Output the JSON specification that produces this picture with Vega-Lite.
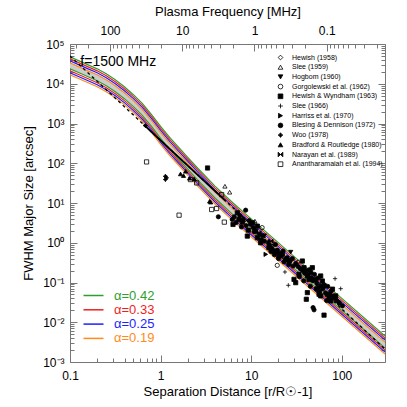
{
  "$schema": "https://vega.github.io/schema/vega-lite/v6.json",
  "width": 315,
  "height": 318,
  "autosize": {"type": "none"},
  "padding": {"left": 70, "top": 44, "right": 22, "bottom": 45},
  "background": "white",
  "config": {
    "view": {"stroke": null},
    "font": "Liberation Sans",
    "axis": {"grid": false, "labelFlush": false, "labelOverlap": false, "domainColor": "#777777", "tickColor": "#777777", "labelColor": "#000000", "titleColor": "#000000", "labelFont": "Liberation Sans", "titleFont": "Liberation Sans", "labelFontSize": 12, "titleFontSize": 13, "titleFontWeight": "normal", "tickWidth": 1, "domainWidth": 1}
  },
  "datasets": {
    "anchor": [{"x": 1, "y": 1}],
    "note": [{"x": 0.13, "y": 28000, "label": "f=1500 MHz"}],
    "powerlaw": [{"x": 0.1, "y": 49700}, {"x": 300, "y": 0.00211}],
    "fitseg": [{"x": 0.65, "y": 940}, {"x": 5.25, "y": 11.2}],
    "band": [
      {"x": 0.1, "top": 33500, "bottom": 23710},
      {"x": 0.1259, "top": 26610, "bottom": 18840},
      {"x": 0.1585, "top": 21130, "bottom": 14960},
      {"x": 0.1995, "top": 16790, "bottom": 11890},
      {"x": 0.2512, "top": 12590, "bottom": 8913},
      {"x": 0.3162, "top": 8913, "bottom": 6310},
      {"x": 0.3981, "top": 5957, "bottom": 4217},
      {"x": 0.5012, "top": 3758, "bottom": 2661},
      {"x": 0.631, "top": 2239, "bottom": 1585},
      {"x": 0.7943, "top": 1189, "bottom": 841.4},
      {"x": 1, "top": 595.7, "bottom": 421.7},
      {"x": 1.259, "top": 316.2, "bottom": 223.9},
      {"x": 1.585, "top": 177.8, "bottom": 125.9},
      {"x": 1.995, "top": 100, "bottom": 70.79},
      {"x": 2.512, "top": 56.23, "bottom": 39.81},
      {"x": 3.981, "top": 18.84, "bottom": 13.34},
      {"x": 6.31, "top": 7.079, "bottom": 5.012},
      {"x": 10, "top": 2.818, "bottom": 1.995},
      {"x": 31.62, "top": 0.2818, "bottom": 0.1995},
      {"x": 100, "top": 0.02818, "bottom": 0.01995},
      {"x": 300, "top": 0.003162, "bottom": 0.002239}
    ],
    "curves": [
      {"x": 0.1, "a": "α=0.42", "hi": 47320, "lo": 23710},
      {"x": 0.1, "a": "α=0.33", "hi": 42170, "lo": 21130},
      {"x": 0.1, "a": "α=0.25", "hi": 37580, "lo": 18840},
      {"x": 0.1, "a": "α=0.19", "hi": 33500, "lo": 16790},
      {"x": 0.1259, "a": "α=0.42", "hi": 37580, "lo": 18840},
      {"x": 0.1259, "a": "α=0.33", "hi": 33500, "lo": 16790},
      {"x": 0.1259, "a": "α=0.25", "hi": 29850, "lo": 14960},
      {"x": 0.1259, "a": "α=0.19", "hi": 26610, "lo": 13340},
      {"x": 0.1585, "a": "α=0.42", "hi": 29850, "lo": 14960},
      {"x": 0.1585, "a": "α=0.33", "hi": 26610, "lo": 13340},
      {"x": 0.1585, "a": "α=0.25", "hi": 23710, "lo": 11890},
      {"x": 0.1585, "a": "α=0.19", "hi": 21130, "lo": 10590},
      {"x": 0.1995, "a": "α=0.42", "hi": 23710, "lo": 11890},
      {"x": 0.1995, "a": "α=0.33", "hi": 21130, "lo": 10590},
      {"x": 0.1995, "a": "α=0.25", "hi": 18840, "lo": 9441},
      {"x": 0.1995, "a": "α=0.19", "hi": 16790, "lo": 8414},
      {"x": 0.2512, "a": "α=0.42", "hi": 17780, "lo": 8913},
      {"x": 0.2512, "a": "α=0.33", "hi": 15850, "lo": 7943},
      {"x": 0.2512, "a": "α=0.25", "hi": 14130, "lo": 7079},
      {"x": 0.2512, "a": "α=0.19", "hi": 12590, "lo": 6310},
      {"x": 0.3162, "a": "α=0.42", "hi": 12590, "lo": 6310},
      {"x": 0.3162, "a": "α=0.33", "hi": 11220, "lo": 5623},
      {"x": 0.3162, "a": "α=0.25", "hi": 10000, "lo": 5012},
      {"x": 0.3162, "a": "α=0.19", "hi": 8913, "lo": 4467},
      {"x": 0.3981, "a": "α=0.42", "hi": 8414, "lo": 4217},
      {"x": 0.3981, "a": "α=0.33", "hi": 7499, "lo": 3758},
      {"x": 0.3981, "a": "α=0.25", "hi": 6683, "lo": 3350},
      {"x": 0.3981, "a": "α=0.19", "hi": 5957, "lo": 2985},
      {"x": 0.5012, "a": "α=0.42", "hi": 5309, "lo": 2661},
      {"x": 0.5012, "a": "α=0.33", "hi": 4732, "lo": 2371},
      {"x": 0.5012, "a": "α=0.25", "hi": 4217, "lo": 2113},
      {"x": 0.5012, "a": "α=0.19", "hi": 3758, "lo": 1884},
      {"x": 0.631, "a": "α=0.42", "hi": 3162, "lo": 1585},
      {"x": 0.631, "a": "α=0.33", "hi": 2818, "lo": 1413},
      {"x": 0.631, "a": "α=0.25", "hi": 2512, "lo": 1259},
      {"x": 0.631, "a": "α=0.19", "hi": 2239, "lo": 1122},
      {"x": 0.7943, "a": "α=0.42", "hi": 1679, "lo": 841.4},
      {"x": 0.7943, "a": "α=0.33", "hi": 1496, "lo": 749.9},
      {"x": 0.7943, "a": "α=0.25", "hi": 1334, "lo": 668.3},
      {"x": 0.7943, "a": "α=0.19", "hi": 1189, "lo": 595.7},
      {"x": 1, "a": "α=0.42", "hi": 841.4, "lo": 421.7},
      {"x": 1, "a": "α=0.33", "hi": 749.9, "lo": 375.8},
      {"x": 1, "a": "α=0.25", "hi": 668.3, "lo": 335.0},
      {"x": 1, "a": "α=0.19", "hi": 595.7, "lo": 298.5},
      {"x": 1.259, "a": "α=0.42", "hi": 446.7, "lo": 223.9},
      {"x": 1.259, "a": "α=0.33", "hi": 398.1, "lo": 199.5},
      {"x": 1.259, "a": "α=0.25", "hi": 354.8, "lo": 177.8},
      {"x": 1.259, "a": "α=0.19", "hi": 316.2, "lo": 158.5},
      {"x": 1.585, "a": "α=0.42", "hi": 251.2, "lo": 125.9},
      {"x": 1.585, "a": "α=0.33", "hi": 223.9, "lo": 112.2},
      {"x": 1.585, "a": "α=0.25", "hi": 199.5, "lo": 100},
      {"x": 1.585, "a": "α=0.19", "hi": 177.8, "lo": 89.13},
      {"x": 1.995, "a": "α=0.42", "hi": 141.3, "lo": 70.79},
      {"x": 1.995, "a": "α=0.33", "hi": 125.9, "lo": 63.1},
      {"x": 1.995, "a": "α=0.25", "hi": 112.2, "lo": 56.23},
      {"x": 1.995, "a": "α=0.19", "hi": 100, "lo": 50.12},
      {"x": 2.512, "a": "α=0.42", "hi": 79.43, "lo": 39.81},
      {"x": 2.512, "a": "α=0.33", "hi": 70.79, "lo": 35.48},
      {"x": 2.512, "a": "α=0.25", "hi": 63.1, "lo": 31.62},
      {"x": 2.512, "a": "α=0.19", "hi": 56.23, "lo": 28.18},
      {"x": 3.981, "a": "α=0.42", "hi": 26.61, "lo": 13.34},
      {"x": 3.981, "a": "α=0.33", "hi": 23.71, "lo": 11.89},
      {"x": 3.981, "a": "α=0.25", "hi": 21.13, "lo": 10.59},
      {"x": 3.981, "a": "α=0.19", "hi": 18.84, "lo": 9.441},
      {"x": 6.31, "a": "α=0.42", "hi": 10, "lo": 5.012},
      {"x": 6.31, "a": "α=0.33", "hi": 8.913, "lo": 4.467},
      {"x": 6.31, "a": "α=0.25", "hi": 7.943, "lo": 3.981},
      {"x": 6.31, "a": "α=0.19", "hi": 7.079, "lo": 3.548},
      {"x": 10, "a": "α=0.42", "hi": 3.981, "lo": 1.995},
      {"x": 10, "a": "α=0.33", "hi": 3.548, "lo": 1.778},
      {"x": 10, "a": "α=0.25", "hi": 3.162, "lo": 1.585},
      {"x": 10, "a": "α=0.19", "hi": 2.818, "lo": 1.413},
      {"x": 31.62, "a": "α=0.42", "hi": 0.3981, "lo": 0.1995},
      {"x": 31.62, "a": "α=0.33", "hi": 0.3548, "lo": 0.1778},
      {"x": 31.62, "a": "α=0.25", "hi": 0.3162, "lo": 0.1585},
      {"x": 31.62, "a": "α=0.19", "hi": 0.2818, "lo": 0.1413},
      {"x": 100, "a": "α=0.42", "hi": 0.03981, "lo": 0.01995},
      {"x": 100, "a": "α=0.33", "hi": 0.03548, "lo": 0.01778},
      {"x": 100, "a": "α=0.25", "hi": 0.03162, "lo": 0.01585},
      {"x": 100, "a": "α=0.19", "hi": 0.02818, "lo": 0.01413},
      {"x": 300, "a": "α=0.42", "hi": 0.004467, "lo": 0.002239},
      {"x": 300, "a": "α=0.33", "hi": 0.003981, "lo": 0.001995},
      {"x": 300, "a": "α=0.25", "hi": 0.003548, "lo": 0.001778},
      {"x": 300, "a": "α=0.19", "hi": 0.003162, "lo": 0.001585}
    ],
    "obs": [
      {"study": "Hewish (1958)", "x": 17.5, "y": 0.95},
      {"study": "Hewish (1958)", "x": 33, "y": 0.33},
      {"study": "Hewish (1958)", "x": 55, "y": 0.09},
      {"study": "Slee (1959)", "x": 5.13, "y": 26.4},
      {"study": "Slee (1959)", "x": 5.78, "y": 18.7},
      {"study": "Slee (1959)", "x": 11, "y": 3.5},
      {"study": "Hogbom (1960)", "x": 27.3, "y": 0.58},
      {"study": "Hogbom (1960)", "x": 14, "y": 1.5},
      {"study": "Gorgolewski et al. (1962)", "x": 19.4, "y": 0.27},
      {"study": "Gorgolewski et al. (1962)", "x": 13.2, "y": 2.4},
      {"study": "Hewish & Wyndham (1963)", "x": 3.3, "y": 76},
      {"study": "Hewish & Wyndham (1963)", "x": 7.03, "y": 5.66},
      {"study": "Hewish & Wyndham (1963)", "x": 7.33, "y": 3.85},
      {"study": "Hewish & Wyndham (1963)", "x": 7.98, "y": 3.3},
      {"study": "Hewish & Wyndham (1963)", "x": 6.3, "y": 2.89},
      {"study": "Hewish & Wyndham (1963)", "x": 9.29, "y": 2.08},
      {"study": "Hewish & Wyndham (1963)", "x": 11.7, "y": 2.62},
      {"study": "Hewish & Wyndham (1963)", "x": 11.2, "y": 1.96},
      {"study": "Hewish & Wyndham (1963)", "x": 10.3, "y": 3.18},
      {"study": "Hewish & Wyndham (1963)", "x": 9.06, "y": 1.47},
      {"study": "Hewish & Wyndham (1963)", "x": 11.7, "y": 1.34},
      {"study": "Hewish & Wyndham (1963)", "x": 12.7, "y": 1.0},
      {"study": "Hewish & Wyndham (1963)", "x": 15.7, "y": 0.75},
      {"study": "Hewish & Wyndham (1963)", "x": 17.9, "y": 0.62},
      {"study": "Hewish & Wyndham (1963)", "x": 20.3, "y": 0.46},
      {"study": "Hewish & Wyndham (1963)", "x": 22.1, "y": 0.51},
      {"study": "Hewish & Wyndham (1963)", "x": 24, "y": 0.38},
      {"study": "Hewish & Wyndham (1963)", "x": 26.2, "y": 0.32},
      {"study": "Hewish & Wyndham (1963)", "x": 29.7, "y": 0.12},
      {"study": "Hewish & Wyndham (1963)", "x": 31, "y": 0.099},
      {"study": "Hewish & Wyndham (1963)", "x": 33.7, "y": 0.161},
      {"study": "Hewish & Wyndham (1963)", "x": 36.7, "y": 0.347},
      {"study": "Hewish & Wyndham (1963)", "x": 38.3, "y": 0.236},
      {"study": "Hewish & Wyndham (1963)", "x": 40, "y": 0.195},
      {"study": "Hewish & Wyndham (1963)", "x": 41.7, "y": 0.146},
      {"study": "Hewish & Wyndham (1963)", "x": 43.5, "y": 0.12},
      {"study": "Hewish & Wyndham (1963)", "x": 45.4, "y": 0.177},
      {"study": "Hewish & Wyndham (1963)", "x": 47.3, "y": 0.236},
      {"study": "Hewish & Wyndham (1963)", "x": 51.5, "y": 0.12},
      {"study": "Hewish & Wyndham (1963)", "x": 53.8, "y": 0.068},
      {"study": "Hewish & Wyndham (1963)", "x": 56.1, "y": 0.0506},
      {"study": "Hewish & Wyndham (1963)", "x": 58.5, "y": 0.146},
      {"study": "Hewish & Wyndham (1963)", "x": 61.1, "y": 0.109},
      {"study": "Hewish & Wyndham (1963)", "x": 63.7, "y": 0.085},
      {"study": "Hewish & Wyndham (1963)", "x": 58.5, "y": 0.046},
      {"study": "Hewish & Wyndham (1963)", "x": 41.7, "y": 0.0557},
      {"study": "Hewish & Wyndham (1963)", "x": 40.6, "y": 0.0379},
      {"study": "Hewish & Wyndham (1963)", "x": 63.7, "y": 0.0151},
      {"study": "Hewish & Wyndham (1963)", "x": 69.3, "y": 0.0506},
      {"study": "Hewish & Wyndham (1963)", "x": 72.4, "y": 0.0418},
      {"study": "Hewish & Wyndham (1963)", "x": 75.5, "y": 0.0344},
      {"study": "Hewish & Wyndham (1963)", "x": 78.9, "y": 0.068},
      {"study": "Hewish & Wyndham (1963)", "x": 85.7, "y": 0.046},
      {"study": "Slee (1966)", "x": 23.6, "y": 0.184},
      {"study": "Slee (1966)", "x": 25.7, "y": 0.085},
      {"study": "Slee (1966)", "x": 84.3, "y": 0.125},
      {"study": "Slee (1966)", "x": 97.3, "y": 0.07},
      {"study": "Harriss et al. (1970)", "x": 14.5, "y": 0.51},
      {"study": "Harriss et al. (1970)", "x": 8.3, "y": 3.4},
      {"study": "Blesing & Dennison (1972)", "x": 4.34, "y": 4.5},
      {"study": "Blesing & Dennison (1972)", "x": 6.18, "y": 3.85},
      {"study": "Blesing & Dennison (1972)", "x": 8.69, "y": 6.6},
      {"study": "Blesing & Dennison (1972)", "x": 19, "y": 0.56},
      {"study": "Blesing & Dennison (1972)", "x": 48.2, "y": 0.0234},
      {"study": "Blesing & Dennison (1972)", "x": 49.4, "y": 0.0205},
      {"study": "Blesing & Dennison (1972)", "x": 6.5, "y": 4.5},
      {"study": "Blesing & Dennison (1972)", "x": 7.5, "y": 4.8},
      {"study": "Blesing & Dennison (1972)", "x": 8.2, "y": 3.9},
      {"study": "Blesing & Dennison (1972)", "x": 9.5, "y": 3.6},
      {"study": "Blesing & Dennison (1972)", "x": 10.5, "y": 2.4},
      {"study": "Blesing & Dennison (1972)", "x": 12.5, "y": 1.6},
      {"study": "Blesing & Dennison (1972)", "x": 13.5, "y": 1.5},
      {"study": "Blesing & Dennison (1972)", "x": 8.8, "y": 2.7},
      {"study": "Blesing & Dennison (1972)", "x": 9.8, "y": 2.9},
      {"study": "Blesing & Dennison (1972)", "x": 10.8, "y": 1.9},
      {"study": "Blesing & Dennison (1972)", "x": 13, "y": 1.2},
      {"study": "Blesing & Dennison (1972)", "x": 14, "y": 1.1},
      {"study": "Blesing & Dennison (1972)", "x": 6.8, "y": 3.2},
      {"study": "Blesing & Dennison (1972)", "x": 7.8, "y": 2.5},
      {"study": "Blesing & Dennison (1972)", "x": 15.5, "y": 1.0},
      {"study": "Blesing & Dennison (1972)", "x": 16, "y": 0.85},
      {"study": "Blesing & Dennison (1972)", "x": 17, "y": 0.72},
      {"study": "Blesing & Dennison (1972)", "x": 18.5, "y": 0.9},
      {"study": "Blesing & Dennison (1972)", "x": 19.5, "y": 0.65},
      {"study": "Blesing & Dennison (1972)", "x": 21, "y": 0.55},
      {"study": "Blesing & Dennison (1972)", "x": 22.5, "y": 0.62},
      {"study": "Blesing & Dennison (1972)", "x": 25, "y": 0.42},
      {"study": "Blesing & Dennison (1972)", "x": 27, "y": 0.36},
      {"study": "Blesing & Dennison (1972)", "x": 28.5, "y": 0.4},
      {"study": "Blesing & Dennison (1972)", "x": 16.5, "y": 0.6},
      {"study": "Blesing & Dennison (1972)", "x": 18, "y": 0.5},
      {"study": "Blesing & Dennison (1972)", "x": 20, "y": 0.4},
      {"study": "Blesing & Dennison (1972)", "x": 23, "y": 0.33},
      {"study": "Blesing & Dennison (1972)", "x": 26, "y": 0.28},
      {"study": "Blesing & Dennison (1972)", "x": 29, "y": 0.26},
      {"study": "Blesing & Dennison (1972)", "x": 31, "y": 0.3},
      {"study": "Blesing & Dennison (1972)", "x": 33, "y": 0.25},
      {"study": "Blesing & Dennison (1972)", "x": 35, "y": 0.22},
      {"study": "Blesing & Dennison (1972)", "x": 37, "y": 0.2},
      {"study": "Blesing & Dennison (1972)", "x": 39, "y": 0.17},
      {"study": "Blesing & Dennison (1972)", "x": 42, "y": 0.15},
      {"study": "Blesing & Dennison (1972)", "x": 44, "y": 0.21},
      {"study": "Blesing & Dennison (1972)", "x": 46, "y": 0.13},
      {"study": "Blesing & Dennison (1972)", "x": 48, "y": 0.11},
      {"study": "Blesing & Dennison (1972)", "x": 50, "y": 0.16},
      {"study": "Blesing & Dennison (1972)", "x": 53, "y": 0.095},
      {"study": "Blesing & Dennison (1972)", "x": 55, "y": 0.13},
      {"study": "Blesing & Dennison (1972)", "x": 58, "y": 0.08},
      {"study": "Blesing & Dennison (1972)", "x": 34, "y": 0.14},
      {"study": "Blesing & Dennison (1972)", "x": 38, "y": 0.11},
      {"study": "Blesing & Dennison (1972)", "x": 45, "y": 0.08},
      {"study": "Blesing & Dennison (1972)", "x": 52, "y": 0.07},
      {"study": "Blesing & Dennison (1972)", "x": 57, "y": 0.06},
      {"study": "Blesing & Dennison (1972)", "x": 62, "y": 0.07},
      {"study": "Blesing & Dennison (1972)", "x": 66, "y": 0.055},
      {"study": "Blesing & Dennison (1972)", "x": 70, "y": 0.08},
      {"study": "Blesing & Dennison (1972)", "x": 74, "y": 0.05},
      {"study": "Blesing & Dennison (1972)", "x": 78, "y": 0.045},
      {"study": "Blesing & Dennison (1972)", "x": 82, "y": 0.04},
      {"study": "Blesing & Dennison (1972)", "x": 88, "y": 0.035},
      {"study": "Blesing & Dennison (1972)", "x": 94, "y": 0.03},
      {"study": "Blesing & Dennison (1972)", "x": 68, "y": 0.035},
      {"study": "Blesing & Dennison (1972)", "x": 76, "y": 0.06},
      {"study": "Blesing & Dennison (1972)", "x": 93.3, "y": 0.0313},
      {"study": "Blesing & Dennison (1972)", "x": 101.6, "y": 0.0258},
      {"study": "Woo (1978)", "x": 0.682, "y": 878},
      {"study": "Woo (1978)", "x": 1.13, "y": 47},
      {"study": "Woo (1978)", "x": 1.13, "y": 39},
      {"study": "Woo (1978)", "x": 1.16, "y": 43},
      {"study": "Bradford & Routledge (1980)", "x": 1.66, "y": 53.8},
      {"study": "Bradford & Routledge (1980)", "x": 1.79, "y": 48.9},
      {"study": "Bradford & Routledge (1980)", "x": 1.89, "y": 62.8},
      {"study": "Bradford & Routledge (1980)", "x": 2.09, "y": 41.9},
      {"study": "Bradford & Routledge (1980)", "x": 3.48, "y": 11.1},
      {"study": "Bradford & Routledge (1980)", "x": 3.57, "y": 10.5},
      {"study": "Bradford & Routledge (1980)", "x": 2.35, "y": 40},
      {"study": "Narayan et al. (1989)", "x": 12.2, "y": 1.78},
      {"study": "Narayan et al. (1989)", "x": 16.5, "y": 1.1},
      {"study": "Narayan et al. (1989)", "x": 21, "y": 0.45},
      {"study": "Anantharamaiah et al. (1994)", "x": 0.7, "y": 108},
      {"study": "Anantharamaiah et al. (1994)", "x": 1.6, "y": 4.94},
      {"study": "Anantharamaiah et al. (1994)", "x": 2.14, "y": 38.8},
      {"study": "Anantharamaiah et al. (1994)", "x": 2.5, "y": 32},
      {"study": "Anantharamaiah et al. (1994)", "x": 4.72, "y": 16.3},
      {"study": "Anantharamaiah et al. (1994)", "x": 3.66, "y": 6.86},
      {"study": "Anantharamaiah et al. (1994)", "x": 4.15, "y": 7.27},
      {"study": "Anantharamaiah et al. (1994)", "x": 5.05, "y": 3.3}
    ]
  },
  "layer": [
    {
      "data": {"name": "band"},
      "mark": {"type": "area", "fill": "#cccccc", "clip": true},
      "encoding": {
        "x": {"field": "x", "type": "quantitative", "scale": {"type": "log", "domain": [0.1, 300], "nice": false}, "axis": null},
        "y": {"field": "top", "type": "quantitative", "scale": {"type": "log", "domain": [0.001, 100000], "nice": false}, "axis": null},
        "y2": {"field": "bottom"}
      }
    },
    {
      "data": {"name": "curves"},
      "transform": [{"fold": ["hi", "lo"], "as": ["bound", "size"]}],
      "mark": {"type": "line", "strokeWidth": 1.2, "clip": true},
      "encoding": {
        "x": {"field": "x", "type": "quantitative", "scale": {"type": "log", "domain": [0.1, 300], "nice": false}, "axis": null},
        "y": {"field": "size", "type": "quantitative", "scale": {"type": "log", "domain": [0.001, 100000], "nice": false}, "axis": null},
        "detail": {"field": "bound"},
        "color": {
          "field": "a", "type": "nominal",
          "scale": {"domain": ["α=0.42", "α=0.33", "α=0.25", "α=0.19"], "range": ["#2e9e2e", "#f01e1e", "#1e1eff", "#ff8c1a"]},
          "legend": {"orient": "none", "legendX": 17, "legendY": 245, "title": null, "symbolType": "M-2,0L2,0", "symbolSize": 100, "symbolStrokeWidth": 1.5, "labelFontSize": 13, "labelFont": "Liberation Sans", "labelOffset": 14, "rowPadding": 0.3, "padding": 0,
            "encode": {"labels": {"update": {"fill": {"signal": "scale('color', datum.value)"}}}}}
        }
      }
    },
    {
      "data": {"name": "powerlaw"},
      "mark": {"type": "line", "color": "black", "strokeWidth": 1.3, "strokeDash": [3, 3], "clip": true},
      "encoding": {
        "x": {"field": "x", "type": "quantitative", "scale": {"type": "log", "domain": [0.1, 300], "nice": false}, "axis": null},
        "y": {"field": "y", "type": "quantitative", "scale": {"type": "log", "domain": [0.001, 100000], "nice": false}, "axis": null}
      }
    },
    {
      "data": {"name": "fitseg"},
      "mark": {"type": "line", "color": "black", "strokeWidth": 1.8, "clip": true},
      "encoding": {
        "x": {"field": "x", "type": "quantitative", "scale": {"type": "log", "domain": [0.1, 300], "nice": false}, "axis": null},
        "y": {"field": "y", "type": "quantitative", "scale": {"type": "log", "domain": [0.001, 100000], "nice": false}, "axis": null}
      }
    },
    {
      "data": {"name": "obs"},
      "mark": {"type": "point", "strokeWidth": 0.8, "size": 18, "opacity": 1, "clip": true},
      "encoding": {
        "x": {"field": "x", "type": "quantitative", "scale": {"type": "log", "domain": [0.1, 300], "nice": false}, "axis": null},
        "y": {"field": "y", "type": "quantitative", "scale": {"type": "log", "domain": [0.001, 100000], "nice": false}, "axis": null},
        "shape": {
          "field": "study", "type": "nominal",
          "scale": {
            "domain": ["Hewish (1958)", "Slee (1959)", "Hogbom (1960)", "Gorgolewski et al. (1962)", "Hewish & Wyndham (1963)", "Slee (1966)", "Harriss et al. (1970)", "Blesing & Dennison (1972)", "Woo (1978)", "Bradford & Routledge (1980)", "Narayan et al. (1989)", "Anantharamaiah et al. (1994)"],
            "range": ["diamond", "triangle-up", "triangle-down", "circle", "square", "M-1,0L1,0M0,-1L0,1", "triangle-right", "circle", "M0,-1L0.4,-0.4L1,0L0.4,0.4L0,1L-0.4,0.4L-1,0L-0.4,-0.4Z", "triangle-up", "M-1,-1L1,1L1,-1L-1,1Z", "square"]
          },
          "legend": {"orient": "none", "legendX": 207, "legendY": 10, "title": null, "symbolSize": 22, "symbolStrokeWidth": 0.8, "labelFontSize": 7, "labelFont": "Liberation Sans", "labelColor": "#000000", "labelOffset": 8, "rowPadding": 0.7, "padding": 0}
        },
        "fill": {
          "field": "study", "type": "nominal",
          "scale": {
            "domain": ["Hewish (1958)", "Slee (1959)", "Hogbom (1960)", "Gorgolewski et al. (1962)", "Hewish & Wyndham (1963)", "Slee (1966)", "Harriss et al. (1970)", "Blesing & Dennison (1972)", "Woo (1978)", "Bradford & Routledge (1980)", "Narayan et al. (1989)", "Anantharamaiah et al. (1994)"],
            "range": ["transparent", "transparent", "black", "transparent", "black", "black", "black", "black", "black", "black", "black", "transparent"]
          },
          "legend": {"orient": "none", "legendX": 207, "legendY": 10, "title": null, "symbolSize": 22, "symbolStrokeWidth": 0.8, "labelFontSize": 7, "labelFont": "Liberation Sans", "labelColor": "#000000", "labelOffset": 8, "rowPadding": 0.7, "padding": 0}
        },
        "stroke": {
          "field": "study", "type": "nominal",
          "scale": {
            "domain": ["Hewish (1958)", "Slee (1959)", "Hogbom (1960)", "Gorgolewski et al. (1962)", "Hewish & Wyndham (1963)", "Slee (1966)", "Harriss et al. (1970)", "Blesing & Dennison (1972)", "Woo (1978)", "Bradford & Routledge (1980)", "Narayan et al. (1989)", "Anantharamaiah et al. (1994)"],
            "range": ["black", "black", "black", "black", "black", "black", "black", "black", "black", "black", "black", "black"]
          },
          "legend": {"orient": "none", "legendX": 207, "legendY": 10, "title": null, "symbolSize": 22, "symbolStrokeWidth": 0.8, "labelFontSize": 7, "labelFont": "Liberation Sans", "labelColor": "#000000", "labelOffset": 8, "rowPadding": 0.7, "padding": 0}
        }
      }
    },
    {
      "data": {"name": "note"},
      "mark": {"type": "text", "align": "left", "baseline": "alphabetic", "fontSize": 14, "font": "Liberation Sans", "color": "black"},
      "encoding": {
        "x": {"field": "x", "type": "quantitative", "scale": {"type": "log", "domain": [0.1, 300], "nice": false}, "axis": null},
        "y": {"field": "y", "type": "quantitative", "scale": {"type": "log", "domain": [0.001, 100000], "nice": false}, "axis": null},
        "text": {"field": "label"}
      }
    },
    {
      "data": {"name": "anchor"},
      "mark": {"type": "point", "opacity": 0},
      "encoding": {
        "x": {"field": "x", "type": "quantitative", "scale": {"type": "log", "domain": [0.1, 300], "nice": false},
          "axis": {"orient": "bottom", "values": [0.1, 1, 10, 100], "format": "~g", "ticks": false, "domain": true, "labelPadding": 8, "title": "Separation Distance [r/R☉-1]", "titlePadding": 4}},
        "y": {"field": "y", "type": "quantitative", "scale": {"type": "log", "domain": [0.001, 100000], "nice": false},
          "axis": {"orient": "left", "values": [0.001, 0.01, 0.1, 1, 10, 100, 1000, 10000, 100000], "labelExpr": "['10⁻³','10⁻²','10⁻¹','10⁰','10¹','10²','10³','10⁴','10⁵'][round(log(datum.value)/LN10)+3]", "ticks": false, "domain": true, "labelPadding": 6, "title": "FWHM Major Size [arcsec]", "titlePadding": 7}}
      }
    },
    {
      "data": {"name": "anchor"},
      "mark": {"type": "point", "opacity": 0},
      "encoding": {
        "x": {"field": "x", "type": "quantitative", "scale": {"type": "log", "domain": [0.1, 300], "nice": false},
          "axis": {"orient": "bottom", "values": [0.1, 1, 10, 100], "labels": false, "domain": false, "tickSize": -7, "title": null}},
        "y": {"field": "y", "type": "quantitative", "scale": {"type": "log", "domain": [0.001, 100000], "nice": false},
          "axis": {"orient": "left", "values": [0.001, 0.01, 0.1, 1, 10, 100, 1000, 10000, 100000], "labels": false, "domain": false, "tickSize": -7, "title": null}}
      }
    },
    {
      "data": {"name": "anchor"},
      "mark": {"type": "point", "opacity": 0},
      "encoding": {
        "x": {"field": "x", "type": "quantitative", "scale": {"type": "log", "domain": [0.1, 300], "nice": false},
          "axis": {"orient": "bottom", "values": [0.2, 0.3, 0.4, 0.5, 0.6, 0.7, 0.8, 0.9, 2, 3, 4, 5, 6, 7, 8, 9, 20, 30, 40, 50, 60, 70, 80, 90, 200], "labels": false, "domain": false, "tickSize": -4, "title": null}},
        "y": {"field": "y", "type": "quantitative", "scale": {"type": "log", "domain": [0.001, 100000], "nice": false},
          "axis": {"orient": "left", "values": [0.002, 0.003, 0.004, 0.005, 0.006, 0.007, 0.008, 0.009, 0.02, 0.03, 0.04, 0.05, 0.06, 0.07, 0.08, 0.09, 0.2, 0.3, 0.4, 0.5, 0.6, 0.7, 0.8, 0.9, 2, 3, 4, 5, 6, 7, 8, 9, 20, 30, 40, 50, 60, 70, 80, 90, 200, 300, 400, 500, 600, 700, 800, 900, 2000, 3000, 4000, 5000, 6000, 7000, 8000, 9000, 20000, 30000, 40000, 50000, 60000, 70000, 80000, 90000], "labels": false, "domain": false, "tickSize": -4, "title": null}}
      }
    },
    {
      "data": {"name": "anchor"},
      "mark": {"type": "point", "opacity": 0},
      "encoding": {
        "x": {"field": "x", "type": "quantitative", "scale": {"type": "log", "domain": [0.0156, 358], "nice": false, "reverse": true},
          "axis": {"orient": "top", "values": [100, 10, 1, 0.1], "format": "~g", "ticks": false, "domain": true, "labelPadding": 7, "title": "Plasma Frequency [MHz]", "titlePadding": 6}},
        "y": {"field": "y", "type": "quantitative", "scale": {"type": "log", "domain": [0.001, 100000], "nice": false},
          "axis": {"orient": "right", "values": [0.001, 0.01, 0.1, 1, 10, 100, 1000, 10000, 100000], "labels": false, "domain": true, "tickSize": -7, "title": null}}
      }
    },
    {
      "data": {"name": "anchor"},
      "mark": {"type": "point", "opacity": 0},
      "encoding": {
        "x": {"field": "x", "type": "quantitative", "scale": {"type": "log", "domain": [0.0156, 358], "nice": false, "reverse": true},
          "axis": {"orient": "top", "values": [100, 10, 1, 0.1], "labels": false, "domain": false, "tickSize": -7, "title": null}},
        "y": {"field": "y", "type": "quantitative", "scale": {"type": "log", "domain": [0.001, 100000], "nice": false},
          "axis": {"orient": "right", "values": [0.002, 0.003, 0.004, 0.005, 0.006, 0.007, 0.008, 0.009, 0.02, 0.03, 0.04, 0.05, 0.06, 0.07, 0.08, 0.09, 0.2, 0.3, 0.4, 0.5, 0.6, 0.7, 0.8, 0.9, 2, 3, 4, 5, 6, 7, 8, 9, 20, 30, 40, 50, 60, 70, 80, 90, 200, 300, 400, 500, 600, 700, 800, 900, 2000, 3000, 4000, 5000, 6000, 7000, 8000, 9000, 20000, 30000, 40000, 50000, 60000, 70000, 80000, 90000], "labels": false, "domain": false, "tickSize": -4, "title": null}}
      }
    },
    {
      "data": {"name": "anchor"},
      "mark": {"type": "point", "opacity": 0},
      "encoding": {
        "x": {"field": "x", "type": "quantitative", "scale": {"type": "log", "domain": [0.0156, 358], "nice": false, "reverse": true},
          "axis": {"orient": "top", "values": [300, 200, 90, 80, 70, 60, 50, 40, 30, 20, 9, 8, 7, 6, 5, 4, 3, 2, 0.9, 0.8, 0.7, 0.6, 0.5, 0.4, 0.3, 0.2, 0.09, 0.08, 0.07, 0.06, 0.05, 0.04, 0.03, 0.02], "labels": false, "domain": false, "tickSize": -4, "title": null}},
        "y": {"field": "y", "type": "quantitative", "scale": {"type": "log", "domain": [0.001, 100000], "nice": false}, "axis": null}
      }
    }
  ],
  "resolve": {"scale": {"x": "independent", "y": "independent"}, "axis": {"x": "independent", "y": "independent"}}
}
